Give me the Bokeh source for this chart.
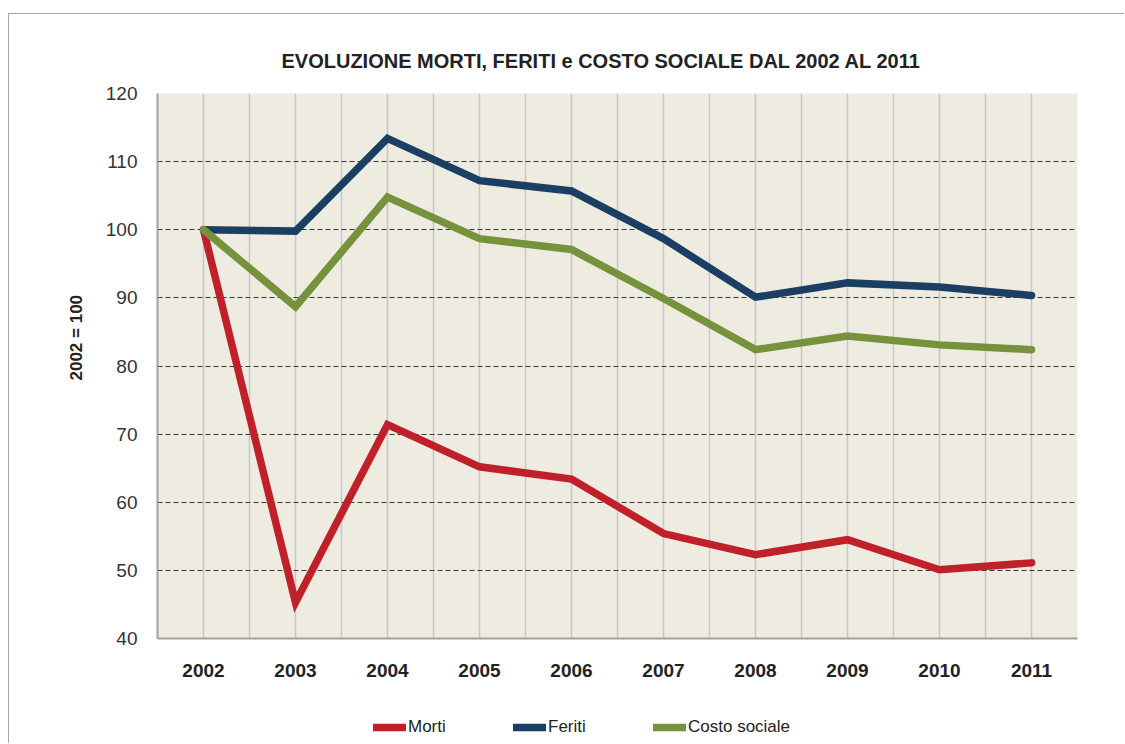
from bokeh.plotting import figure
from bokeh.layouts import column
from bokeh.models import Range1d, FixedTicker, Legend, LegendItem, Title
from bokeh.embed import file_html
from bokeh.resources import INLINE

years = [2002, 2003, 2004, 2005, 2006, 2007, 2008, 2009, 2010, 2011]
morti = [100.0, 45.3, 71.4, 65.2, 63.4, 55.4, 52.3, 54.5, 50.1, 51.1]
feriti = [100.0, 99.8, 113.4, 107.2, 105.7, 98.7, 90.1, 92.2, 91.6, 90.35]
costo = [100.0, 88.7, 104.8, 98.7, 97.1, 89.9, 82.4, 84.4, 83.1, 82.4]
y_ticks = [40, 50, 60, 70, 80, 90, 100, 110, 120]
title_text = "EVOLUZIONE MORTI, FERITI e COSTO SOCIALE DAL 2002 AL 2011"
y_label_text = "2002 = 100"
series_names = ["Morti", "Feriti", "Costo sociale"]
colors = ["#C0202A", "#1B3F63", "#76923C"]

FONT = "Liberation Sans"
BORDER = "1px solid #a6a6a6"

W = 1116
p = figure(width=W, height=686, output_backend="svg", toolbar_location=None,
           x_range=Range1d(years[0] - 0.5, years[-1] + 0.5),
           y_range=Range1d(y_ticks[0], y_ticks[-1]),
           min_border_left=148, min_border_right=48, min_border_top=79, min_border_bottom=62)
p.margin = (13, 0, 0, 8)
p.styles = {"border-top": BORDER, "border-left": BORDER}
p.background_fill_color = "#EEEBE1"
p.border_fill_color = "white"
p.outline_line_color = None

# title
p.title.text = title_text
p.title.align = "left"
p.title.offset = 124
p.title.text_font = FONT
p.title.text_font_style = "bold"
p.title.text_font_size = "20px"
p.title.text_color = "#222222"
p.title.standoff = 44

# axes
p.xaxis.ticker = FixedTicker(ticks=years)
p.xaxis.major_label_text_font = FONT
p.xaxis.major_label_text_font_style = "bold"
p.xaxis.major_label_text_font_size = "19px"
p.xaxis.major_label_text_color = "#222222"
p.xaxis.major_label_standoff = 19
p.xaxis.axis_line_color = "#a0a0a0"
p.xaxis.axis_line_width = 2
p.xaxis.major_tick_line_color = None
p.xaxis.minor_tick_line_color = None

p.yaxis.ticker = FixedTicker(ticks=y_ticks)
p.yaxis.major_label_text_font = FONT
p.yaxis.major_label_text_font_size = "19px"
p.yaxis.major_label_text_color = "#333333"
p.yaxis.major_label_standoff = 14
p.yaxis.axis_line_color = "#a0a0a0"
p.yaxis.axis_line_width = 2
p.yaxis.major_tick_line_color = None
p.yaxis.minor_tick_line_color = None

ylab = Title(text=y_label_text, align="left", offset=258, standoff=33,
             text_font=FONT, text_font_style="bold", text_font_size="17px",
             text_color="#222222")
p.add_layout(ylab, "left")

# grids
half_steps = sorted([y - 0.5 for y in years] + years + [years[-1] + 0.5])
p.xgrid.ticker = FixedTicker(ticks=half_steps)
p.xgrid.grid_line_color = "#c6c6c6"
p.xgrid.grid_line_width = 1.5
p.ygrid.ticker = FixedTicker(ticks=y_ticks[1:])
p.ygrid.grid_line_color = "#3a3a3a"
p.ygrid.grid_line_dash = "5 3"
p.ygrid.grid_line_width = 1

series = [morti, feriti, costo]
for vals, col in zip(series, colors):
    p.line(years, vals, line_color=col, line_width=7.5, line_cap="round", line_join="miter")

# legend strip (separate small figure so the legend is not clipped);
# its lines use the same data but fall outside this strip's ranges
lg = figure(width=W, height=44, output_backend="svg", toolbar_location=None,
            x_range=Range1d(0, 1), y_range=Range1d(0, 1),
            min_border_left=0, min_border_right=0, min_border_top=0, min_border_bottom=0)
lg.margin = (0, 0, 0, 8)
lg.styles = {"border-left": BORDER}
lg.axis.visible = False
lg.grid.visible = False
lg.outline_line_color = None
lg.background_fill_color = "white"
lg.border_fill_color = "white"
leg_r = [lg.line(years, vals, line_color=col, line_width=7.5, line_cap="round")
         for vals, col in zip(series, colors)]
legend = Legend(items=[LegendItem(label=n, renderers=[r]) for n, r in zip(series_names, leg_r)],
                orientation="horizontal", location=(216, 6),
                glyph_width=33, glyph_height=20, label_standoff=2, spacing=0, label_width=105,
                padding=0, margin=0, border_line_color=None, background_fill_alpha=0,
                label_text_font=FONT, label_text_font_size="17px",
                label_text_color="#222222", label_height=20)
lg.add_layout(legend, "center")

layout = column(p, lg, spacing=0)
open("out.html", "w").write(file_html(layout, INLINE))
